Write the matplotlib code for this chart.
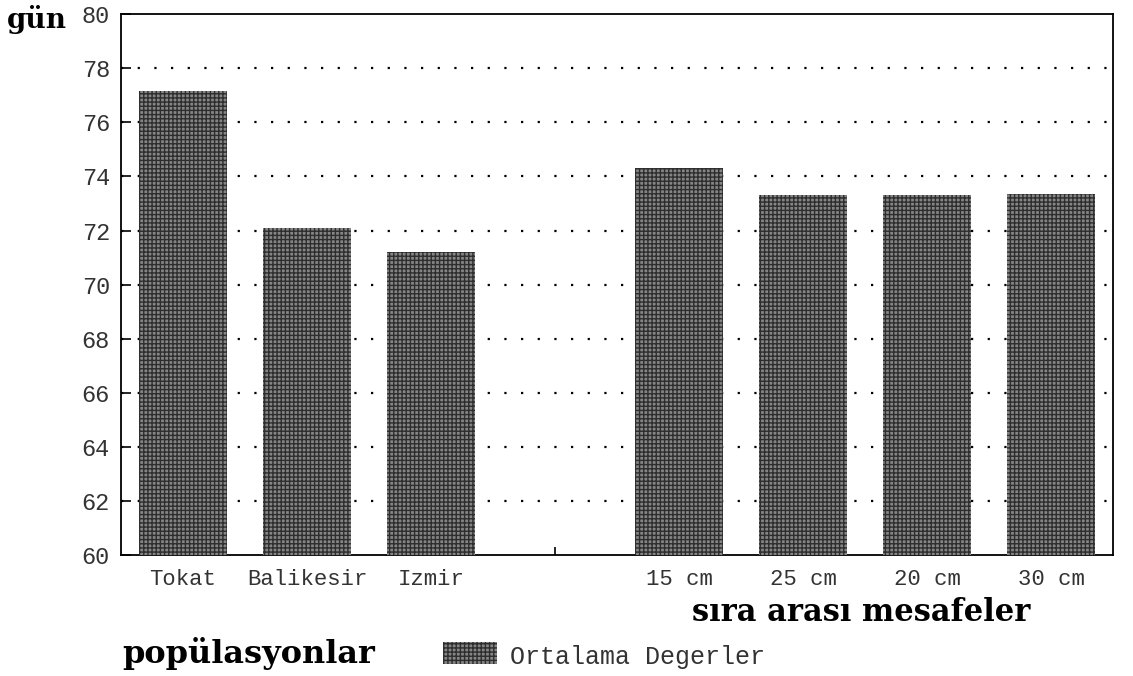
import matplotlib.pyplot as plt
from matplotlib.patches import Rectangle

# data
kategoriler = ["Tokat", "Balikesir", "Izmir", "", "15 cm", "25 cm", "20 cm", "30 cm"]
ortalama = [77.15, 72.1, 71.2, None, 74.3, 73.3, 73.3, 73.35]
yticks = list(range(60, 81, 2))

mono = "Liberation Mono"
serif = "DejaVu Serif"
gray = "#858585"
hatch_col = "#2e2e2e"

fig = plt.figure(figsize=(11.33, 6.76), dpi=100)
ax = fig.add_axes([0.1068, 0.179, 0.8755, 0.8])
ax.set_axisbelow(True)

xs = [i for i, v in enumerate(ortalama) if v is not None]
vals = [v for v in ortalama if v is not None]
ax.bar(xs, [v - 60 for v in vals], bottom=60, width=0.71, color=gray,
       hatch="++++", edgecolor=hatch_col, linewidth=0, zorder=3)

ax.set_xlim(-0.5, 7.5)
ax.set_ylim(60, 80)
ax.set_yticks(yticks)
ax.set_yticklabels([str(t) for t in yticks], fontfamily=mono, fontsize=17, color="#333")
ax.set_xticks(range(len(kategoriler)))
ax.set_xticklabels(kategoriler, fontfamily=mono, fontsize=16, color="#333")
ax.tick_params(axis="x", direction="in", length=6, width=1.2, pad=10)
ax.tick_params(axis="y", direction="in", length=7, width=1.2, pad=8)

for t in yticks[1:-1]:
    ax.axhline(t, color="black", linestyle=(0, (1, 6.5)), linewidth=1.6, zorder=1)

for s in ax.spines.values():
    s.set_linewidth(1.3)

fig.text(0.006, 0.959, "gün", fontfamily=serif, fontsize=20, fontweight="bold", va="baseline")
fig.text(0.760, 0.081, "sıra arası mesafeler", fontfamily=serif, fontsize=22,
         fontweight="bold", ha="center", va="baseline")
fig.text(0.108, 0.019, "popülasyonlar", fontfamily=serif, fontsize=23,
         fontweight="bold", va="baseline")

# legend drawn by hand to sit where the scan has it
fig.patches.append(Rectangle((443 / 1133, 1 - 664 / 676), 54 / 1133, 22 / 676,
                             transform=fig.transFigure, facecolor=gray, hatch="++++",
                             edgecolor=hatch_col, linewidth=0))
fig.text(510 / 1133, 1 - 664 / 676, "Ortalama Degerler", fontfamily=mono, fontsize=18,
         color="#333", va="baseline")

fig.savefig("out.png", dpi=100)
